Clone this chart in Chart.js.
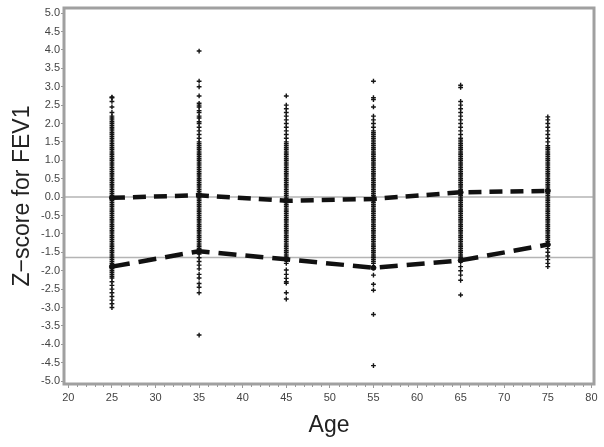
<!DOCTYPE html>
<html>
<head>
<meta charset="utf-8">
<script src="https://cdn.jsdelivr.net/npm/chart.js@4/dist/chart.umd.min.js"></script>
<style>
  html, body { margin: 0; padding: 0; background: #fff; }
</style>
</head>
<body>
<canvas id="myChart" width="604" height="447"></canvas>
<script>
// age groups on the x axis
const ages = [25, 35, 45, 55, 65, 75];

// individual z-scores per age group
const z25 = [2.72, 2.7, 2.6, 2.45, 2.3, 2.2, 2.15, 2.1, 2.05, 2.0, 1.95, 1.9, 1.85, 1.8, 1.75, 1.7, 1.65, 1.6,
  1.55, 1.5, 1.45, 1.4, 1.35, 1.3, 1.25, 1.2, 1.15, 1.1, 1.05, 1.0, 0.95, 0.9, 0.85, 0.8, 0.75, 0.7, 0.65, 0.6,
  0.55, 0.5, 0.45, 0.4, 0.35, 0.3, 0.25, 0.2, 0.15, 0.1, 0.05, 0.0, -0.05, -0.1, -0.15, -0.2, -0.25, -0.3,
  -0.35, -0.4, -0.45, -0.5, -0.55, -0.6, -0.65, -0.7, -0.75, -0.8, -0.85, -0.9, -0.95, -1.0, -1.05, -1.1,
  -1.15, -1.2, -1.25, -1.3, -1.35, -1.4, -1.45, -1.5, -1.55, -1.6, -1.65, -1.7, -1.75, -1.8, -1.85, -1.9,
  -1.95, -2.0, -2.05, -2.1, -2.15, -2.2, -2.3, -2.4, -2.5, -2.6, -2.7, -2.8, -2.9, -3.0];
const z35 = [3.97, 3.15, 3.0, 2.75, 2.55, 2.5, 2.45, 2.35, 2.3, 2.2, 2.15, 2.05, 2.0, 1.9, 1.8, 1.7, 1.6,
  1.5, 1.45, 1.4, 1.35, 1.3, 1.25, 1.2, 1.15, 1.1, 1.05, 1.0, 0.95, 0.9, 0.85, 0.8, 0.75, 0.7, 0.65, 0.6,
  0.55, 0.5, 0.45, 0.4, 0.35, 0.3, 0.25, 0.2, 0.15, 0.1, 0.05, 0.0, -0.05, -0.1, -0.15, -0.2, -0.25, -0.3,
  -0.35, -0.4, -0.45, -0.5, -0.55, -0.6, -0.65, -0.7, -0.75, -0.8, -0.85, -0.9, -0.95, -1.0, -1.05, -1.1,
  -1.15, -1.2, -1.25, -1.3, -1.35, -1.4, -1.45, -1.5, -1.55, -1.65, -1.75, -1.85, -1.95, -2.1, -2.2,
  -2.35, -2.45, -2.6, -3.75];
const z45 = [2.75, 2.5, 2.4, 2.3, 2.2, 2.1, 2.0, 1.9, 1.8, 1.7, 1.6, 1.5, 1.45, 1.4, 1.35, 1.3, 1.25, 1.2,
  1.15, 1.1, 1.05, 1.0, 0.95, 0.9, 0.85, 0.8, 0.75, 0.7, 0.65, 0.6, 0.55, 0.5, 0.45, 0.4, 0.35, 0.3, 0.25,
  0.2, 0.15, 0.1, 0.05, 0.0, -0.05, -0.1, -0.15, -0.2, -0.25, -0.3, -0.35, -0.4, -0.45, -0.5, -0.55, -0.6,
  -0.65, -0.7, -0.75, -0.8, -0.85, -0.9, -0.95, -1.0, -1.05, -1.1, -1.15, -1.2, -1.25, -1.3, -1.35, -1.4,
  -1.45, -1.5, -1.55, -1.6, -1.65, -1.7, -1.8, -1.98, -2.1, -2.21, -2.3, -2.34, -2.6, -2.77];
const z55 = [3.15, 2.7, 2.65, 2.45, 2.2, 2.1, 2.0, 1.9, 1.8, 1.75, 1.7, 1.65, 1.6, 1.55, 1.5, 1.45, 1.4,
  1.35, 1.3, 1.25, 1.2, 1.15, 1.1, 1.05, 1.0, 0.95, 0.9, 0.85, 0.8, 0.75, 0.7, 0.65, 0.6, 0.55, 0.5, 0.45,
  0.4, 0.35, 0.3, 0.25, 0.2, 0.15, 0.1, 0.05, 0.0, -0.05, -0.1, -0.15, -0.2, -0.25, -0.3, -0.35, -0.4, -0.45,
  -0.5, -0.55, -0.6, -0.65, -0.7, -0.75, -0.8, -0.85, -0.9, -0.95, -1.0, -1.05, -1.1, -1.15, -1.2, -1.25,
  -1.3, -1.35, -1.4, -1.45, -1.5, -1.55, -1.6, -1.65, -1.7, -1.75, -1.8, -1.92, -2.12, -2.37, -2.53,
  -3.19, -4.58];
const z65 = [3.04, 2.98, 2.6, 2.5, 2.4, 2.3, 2.2, 2.1, 2.0, 1.9, 1.8, 1.7, 1.6, 1.55, 1.5, 1.45, 1.4, 1.35,
  1.3, 1.25, 1.2, 1.15, 1.1, 1.05, 1.0, 0.95, 0.9, 0.85, 0.8, 0.75, 0.7, 0.65, 0.6, 0.55, 0.5, 0.45, 0.4,
  0.35, 0.3, 0.25, 0.2, 0.15, 0.1, 0.05, 0.0, -0.05, -0.1, -0.15, -0.2, -0.25, -0.3, -0.35, -0.4, -0.45,
  -0.5, -0.55, -0.6, -0.65, -0.7, -0.75, -0.8, -0.85, -0.9, -0.95, -1.0, -1.05, -1.1, -1.15, -1.2, -1.25,
  -1.3, -1.35, -1.4, -1.45, -1.5, -1.55, -1.6, -1.65, -1.75, -1.89, -2.0, -2.12, -2.26, -2.66];
const z75 = [2.18, 2.1, 2.0, 1.9, 1.8, 1.7, 1.6, 1.5, 1.4, 1.35, 1.3, 1.25, 1.2, 1.15, 1.1, 1.05, 1.0, 0.95,
  0.9, 0.85, 0.8, 0.75, 0.7, 0.65, 0.6, 0.55, 0.5, 0.45, 0.4, 0.35, 0.3, 0.25, 0.2, 0.15, 0.1, 0.05, 0.0,
  -0.05, -0.1, -0.15, -0.2, -0.25, -0.3, -0.35, -0.4, -0.45, -0.5, -0.55, -0.6, -0.65, -0.7, -0.75, -0.8,
  -0.85, -0.9, -0.95, -1.0, -1.05, -1.1, -1.15, -1.2, -1.3, -1.4, -1.5, -1.6, -1.7, -1.8, -1.89];

// mean and lower limit of normal per age group
const meanZ = [-0.02, 0.05, -0.1, -0.05, 0.13, 0.17];
const lowerZ = [-1.89, -1.47, -1.69, -1.92, -1.72, -1.29];

// horizontal reference lines
const refLines = [0, -1.645];

const xTicks = [20, 25, 30, 35, 40, 45, 50, 55, 60, 65, 70, 75, 80];
const yTicks = [5, 4.5, 4, 3.5, 3, 2.5, 2, 1.5, 1, 0.5, 0, -0.5, -1, -1.5, -2, -2.5, -3, -3.5, -4, -4.5, -5];

const groups = [z25, z35, z45, z55, z65, z75];
const scatterPoints = [];
groups.forEach(function (vals, i) {
    vals.forEach(function (v) {
        scatterPoints.push({ x: ages[i], y: v });
    });
});

// frame, reference lines and minor x ticks
const framePlugin = {
    id: 'frame',
    beforeDatasetsDraw: function (chart) {
        const ctx = chart.ctx;
        const area = chart.chartArea;
        const y = chart.scales.y;
        ctx.save();
        ctx.strokeStyle = '#b4b4b4';
        ctx.lineWidth = 1.5;
        refLines.forEach(function (v) {
            const py = y.getPixelForValue(v);
            ctx.beginPath();
            ctx.moveTo(area.left, py);
            ctx.lineTo(area.right, py);
            ctx.stroke();
        });
        ctx.restore();
    },
    afterDraw: function (chart) {
        const ctx = chart.ctx;
        const area = chart.chartArea;
        const x = chart.scales.x;
        ctx.save();
        ctx.strokeStyle = '#a0a0a0';
        ctx.lineWidth = 3;
        ctx.strokeRect(area.left, area.top, area.right - area.left, area.bottom - area.top);
        ctx.lineWidth = 1;
        ctx.strokeStyle = '#999';
        for (let v = 20; v <= 80; v++) {
            if (v % 5 === 0) continue;
            const px = Math.round(x.getPixelForValue(v)) + 0.5;
            ctx.beginPath();
            ctx.moveTo(px, area.bottom + 1);
            ctx.lineTo(px, area.bottom + 3);
            ctx.stroke();
        }
        ctx.restore();
    }
};

const config = {
    type: 'scatter',
    data: {
        datasets: [
            {
                label: 'mean',
                type: 'line',
                data: ages.map(function (a, i) { return { x: a, y: meanZ[i] }; }),
                borderColor: '#111',
                backgroundColor: '#111',
                borderWidth: 4.5,
                borderDash: [13, 8],
                pointRadius: 2.5,
                pointBorderWidth: 1,
                pointStyle: 'circle',
                fill: false,
                tension: 0
            },
            {
                label: 'lln',
                type: 'line',
                data: ages.map(function (a, i) { return { x: a, y: lowerZ[i] }; }),
                borderColor: '#111',
                backgroundColor: '#111',
                borderWidth: 4.5,
                borderDash: [18, 9],
                pointRadius: 2.5,
                pointBorderWidth: 1,
                pointStyle: 'circle',
                fill: false,
                tension: 0
            },
            {
                label: 'z',
                data: scatterPoints,
                pointStyle: 'cross',
                pointRadius: 2.4,
                borderWidth: 1.4,
                borderColor: '#151515',
                backgroundColor: '#151515'
            }
        ]
    },
    options: {
        responsive: false,
        animation: false,
        layout: {
            padding: { left: 0, top: 8, right: 10, bottom: 0 }
        },
        plugins: {
            legend: { display: false },
            tooltip: { enabled: false }
        },
        scales: {
            x: {
                type: 'linear',
                min: 19.5,
                max: 80.3,
                afterBuildTicks: function (scale) {
                    scale.ticks = xTicks.map(function (v) { return { value: v }; });
                },
                afterFit: function (scale) {
                    scale.height = 63;
                },
                grid: {
                    drawOnChartArea: false,
                    drawTicks: true,
                    tickLength: 4,
                    color: '#999'
                },
                border: { display: false },
                ticks: {
                    color: '#444',
                    font: { family: 'Liberation Sans', size: 11 },
                    padding: 3,
                    maxRotation: 0
                },
                title: {
                    display: true,
                    text: 'Age',
                    color: '#222',
                    font: { family: 'Liberation Sans', size: 23 },
                    padding: { top: 0, bottom: 8 }
                }
            },
            y: {
                min: -5.08,
                max: 5.14,
                afterBuildTicks: function (scale) {
                    scale.ticks = yTicks.map(function (v) { return { value: v }; });
                },
                afterFit: function (scale) {
                    scale.width = 64;
                },
                grid: {
                    drawOnChartArea: false,
                    drawTicks: true,
                    tickLength: 3,
                    color: '#999'
                },
                border: { display: false },
                ticks: {
                    color: '#444',
                    font: { family: 'Liberation Sans', size: 11 },
                    padding: 1,
                    callback: function (v) { return v.toFixed(1); }
                },
                title: {
                    display: true,
                    text: 'Z\u2212score for FEV1',
                    color: '#222',
                    font: { family: 'Liberation Sans', size: 23 },
                    padding: { top: 9, bottom: 0 }
                }
            }
        }
    },
    plugins: [framePlugin]
};

const myChart = new Chart(
    document.getElementById('myChart'),
    config
);
</script>
</body>
</html>
